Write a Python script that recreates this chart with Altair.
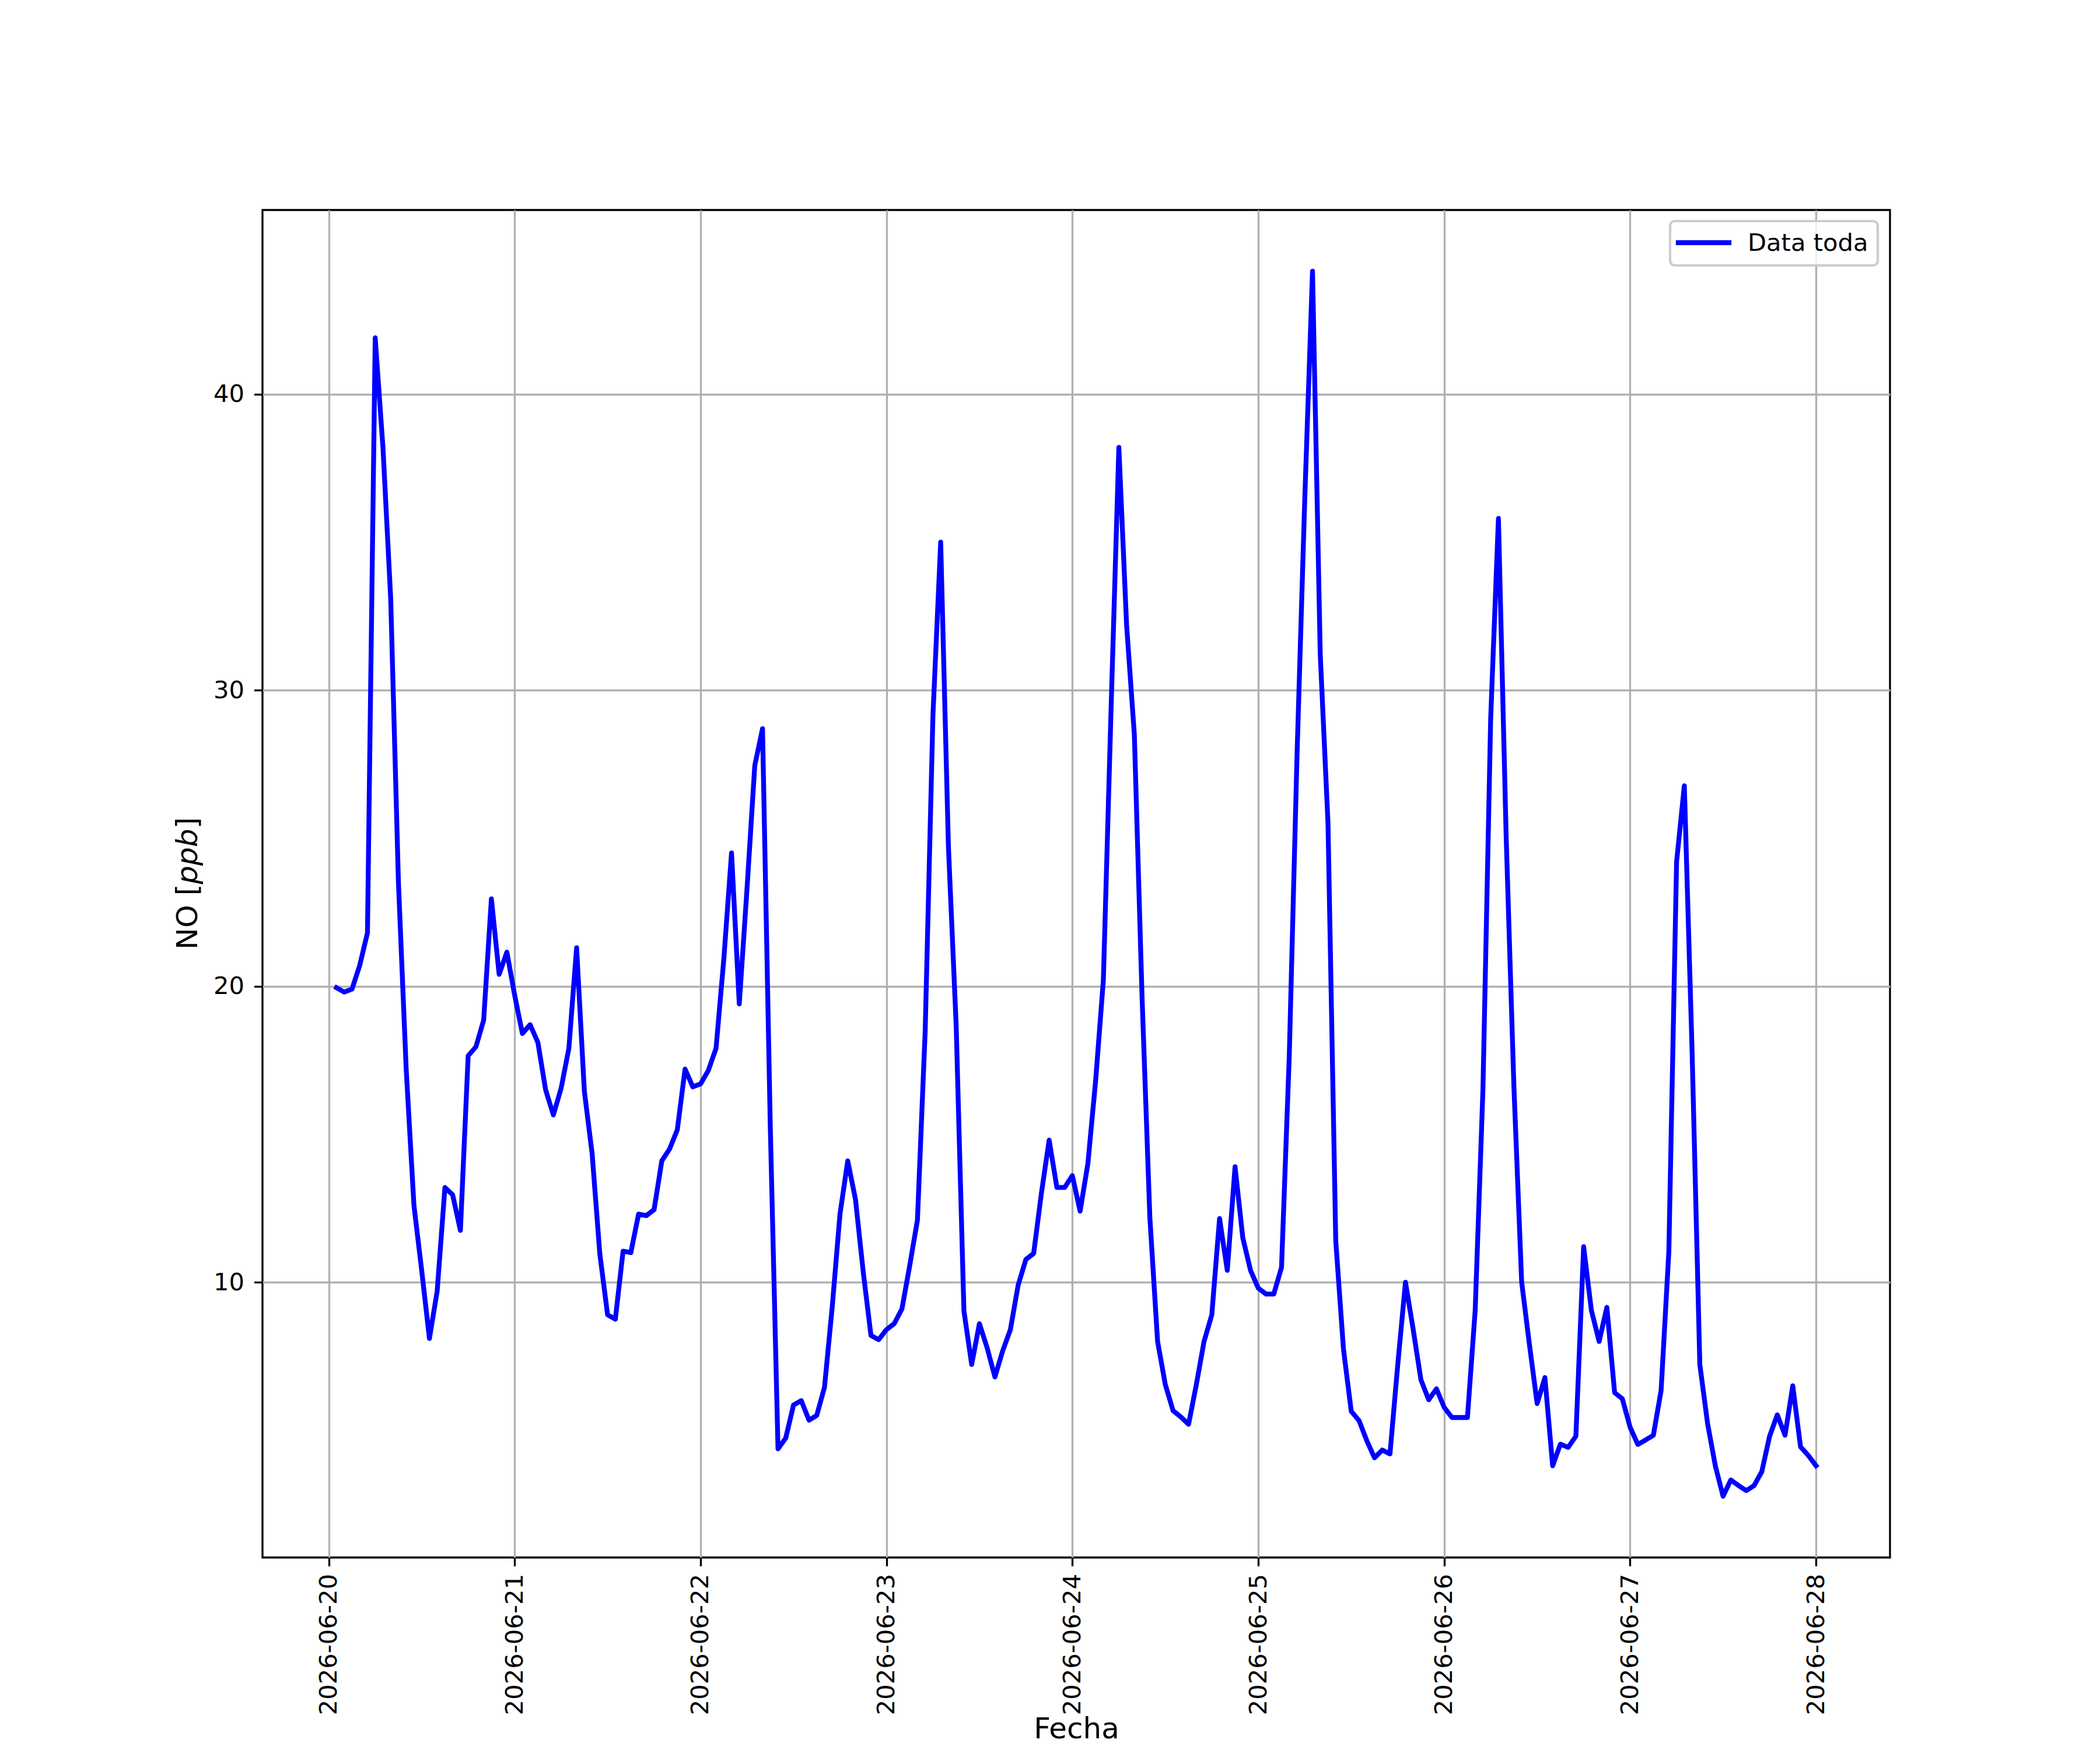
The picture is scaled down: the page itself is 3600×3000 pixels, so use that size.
import altair as alt
import pandas as pd

# Hourly NO values [ppb], 2026-06-20 01:00 -> 2026-06-28 00:00 (24 values per block)
day_0620 = [19.95, 19.8, 19.9, 20.7, 21.8, 41.9, 38.2, 33.1, 23.5, 17.2, 12.6, 10.4,
            8.1, 9.7, 13.2, 12.95, 11.75, 17.65, 17.95, 18.85, 22.95, 20.4, 21.15, 19.7]
day_0621 = [18.4, 18.7, 18.1, 16.5, 15.65, 16.55, 17.9, 21.3, 16.45, 14.35, 10.95, 8.9,
            8.75, 11.05, 11.0, 12.3, 12.25, 12.45, 14.1, 14.5, 15.15, 17.2, 16.6, 16.7]
day_0622 = [17.15, 17.9, 20.9, 24.5, 19.4, 23.3, 27.45, 28.7, 15.3, 4.37, 4.74, 5.85,
            6.0, 5.34, 5.5, 6.45, 9.17, 12.3, 14.1, 12.8, 10.35, 8.2, 8.06, 8.4]
day_0623 = [8.6, 9.1, 10.56, 12.1, 18.5, 29.15, 35.0, 24.7, 18.67, 9.03, 7.22, 8.6,
            7.78, 6.8, 7.68, 8.4, 9.9, 10.77, 10.97, 13.0, 14.8, 13.2, 13.2, 13.6]
day_0624 = [12.4, 14.0, 16.8, 20.2, 29.4, 38.2, 32.2, 28.5, 19.6, 12.2, 8.0, 6.54,
            5.66, 5.45, 5.2, 6.54, 8.0, 8.9, 12.15, 10.4, 13.9, 11.5, 10.4, 9.8]
day_0625 = [9.6, 9.6, 10.5, 17.65, 27.8, 36.45, 44.15, 31.2, 25.5, 11.4, 7.73, 5.64,
            5.33, 4.65, 4.07, 4.33, 4.2, 7.2, 10.0, 8.4, 6.7, 6.03, 6.4, 5.77]
day_0626 = [5.43, 5.43, 5.43, 9.05, 16.5, 29.05, 35.8, 25.05, 16.6, 10.0, 7.9, 5.9,
            6.78, 3.8, 4.53, 4.42, 4.8, 11.2, 9.05, 8.0, 9.15, 6.27, 6.06, 5.1]
day_0627 = [4.52, 4.67, 4.83, 6.34, 11.03, 24.2, 26.77, 17.8, 7.22, 5.23, 3.8, 2.77,
            3.32, 3.13, 2.96, 3.13, 3.6, 4.79, 5.52, 4.83, 6.5, 4.44, 4.15, 3.8]

no_values = (day_0620 + day_0621 + day_0622 + day_0623 +
             day_0624 + day_0625 + day_0626 + day_0627)
fechas = pd.date_range("2026-06-20 01:00", periods=len(no_values), freq="h")
tick_days = [20, 21, 22, 23, 24, 25, 26, 27, 28]
y_ticks = [10, 20, 30, 40]
serie = "Data toda"

df = pd.DataFrame({"Fecha": fechas, "NO": no_values, "serie": serie})

# sizes (matplotlib 12x10 in @300 dpi look)
W, H = 2790, 2310
FONT = "DejaVu Sans"
TICK_FS = 41.67
LABEL_FS = 50
LW = 3.33
BLUE = "#0000ff"

x_domain = [alt.DateTime(year=2026, month=6, date=19, hours=15, minutes=27, seconds=4),
            alt.DateTime(year=2026, month=6, date=28, hours=9, minutes=33)]
x_vals = [alt.DateTime(year=2026, month=6, date=d) for d in tick_days]

line = alt.Chart(df).mark_line(
    strokeWidth=8.3, strokeJoin="round", strokeCap="square", clip=True, color=BLUE
).encode(
    x=alt.X("Fecha:T",
            scale=alt.Scale(domain=x_domain),
            axis=alt.Axis(values=x_vals, format="%Y-%m-%d", labelAngle=270,
                          labelAlign="right", labelBaseline="middle",
                          labelPadding=13, labelLimit=0, title="Fecha",
                          titleX=W / 2, titleY=309, titleAlign="center",
                          titleBaseline="alphabetic", titleFontSize=LABEL_FS,
                          titleFont=FONT, titleFontWeight="normal",
                          titleColor="black")),
    y=alt.Y("NO:Q",
            scale=alt.Scale(domain=[0.701, 46.219], nice=False, zero=False),
            axis=alt.Axis(values=y_ticks, labelPadding=17, labelLimit=0, title="")),
)

# Legend box (upper right), drawn like matplotlib's
leg_df = pd.DataFrame({"serie": [serie]})
leg_box = alt.Chart(leg_df).mark_rect(
    fill="white", fillOpacity=0.8, stroke="#cccccc", strokeWidth=4.2, cornerRadius=8
).encode(x=alt.value(2413), x2=alt.value(2769), y=alt.value(19), y2=alt.value(95))
leg_line = alt.Chart(leg_df).mark_rule(
    color=BLUE, strokeWidth=8.3, strokeCap="square"
).encode(x=alt.value(2427), x2=alt.value(2514), y=alt.value(56))
leg_text = alt.Chart(leg_df).mark_text(
    align="left", baseline="middle", font=FONT, fontSize=TICK_FS, color="black"
).encode(x=alt.value(2546), y=alt.value(57), text="serie:N")

# Y title "NO [ppb]" with italic ppb (three rotated pieces)
em = LABEL_FS
w_part1 = (0.748 + 0.787 + 0.318 + 0.390) * em
w_part2 = (0.635 * 3) * em
base_x = -112
start_y = 1268


def part(text, y, style):
    return alt.Chart(pd.DataFrame({"t": [text]})).mark_text(
        angle=270, align="left", baseline="alphabetic", font=FONT,
        fontSize=LABEL_FS, fontStyle=style, color="black"
    ).encode(x=alt.value(base_x), y=alt.value(y), text="t:N")


t1 = part("NO [", start_y, "normal")
t2 = part("ppb", start_y - w_part1, "italic")
t3 = part("]", start_y - w_part1 - w_part2, "normal")

chart = alt.layer(line, leg_box, leg_line, leg_text, t1, t2, t3).properties(
    width=W, height=H,
    autosize=alt.AutoSizeParams(type="none"),
    padding={"left": 442, "top": 352, "right": 352, "bottom": 322},
).configure_view(
    stroke="black", strokeWidth=LW
).configure_axis(
    domain=False, grid=True, gridColor="#b0b0b0", gridWidth=LW,
    tickColor="black", tickWidth=LW, tickSize=14.6,
    labelFont=FONT, labelFontSize=TICK_FS, labelColor="black",
)

chart.save("out.html", embed_options={"renderer": "svg", "actions": False})
